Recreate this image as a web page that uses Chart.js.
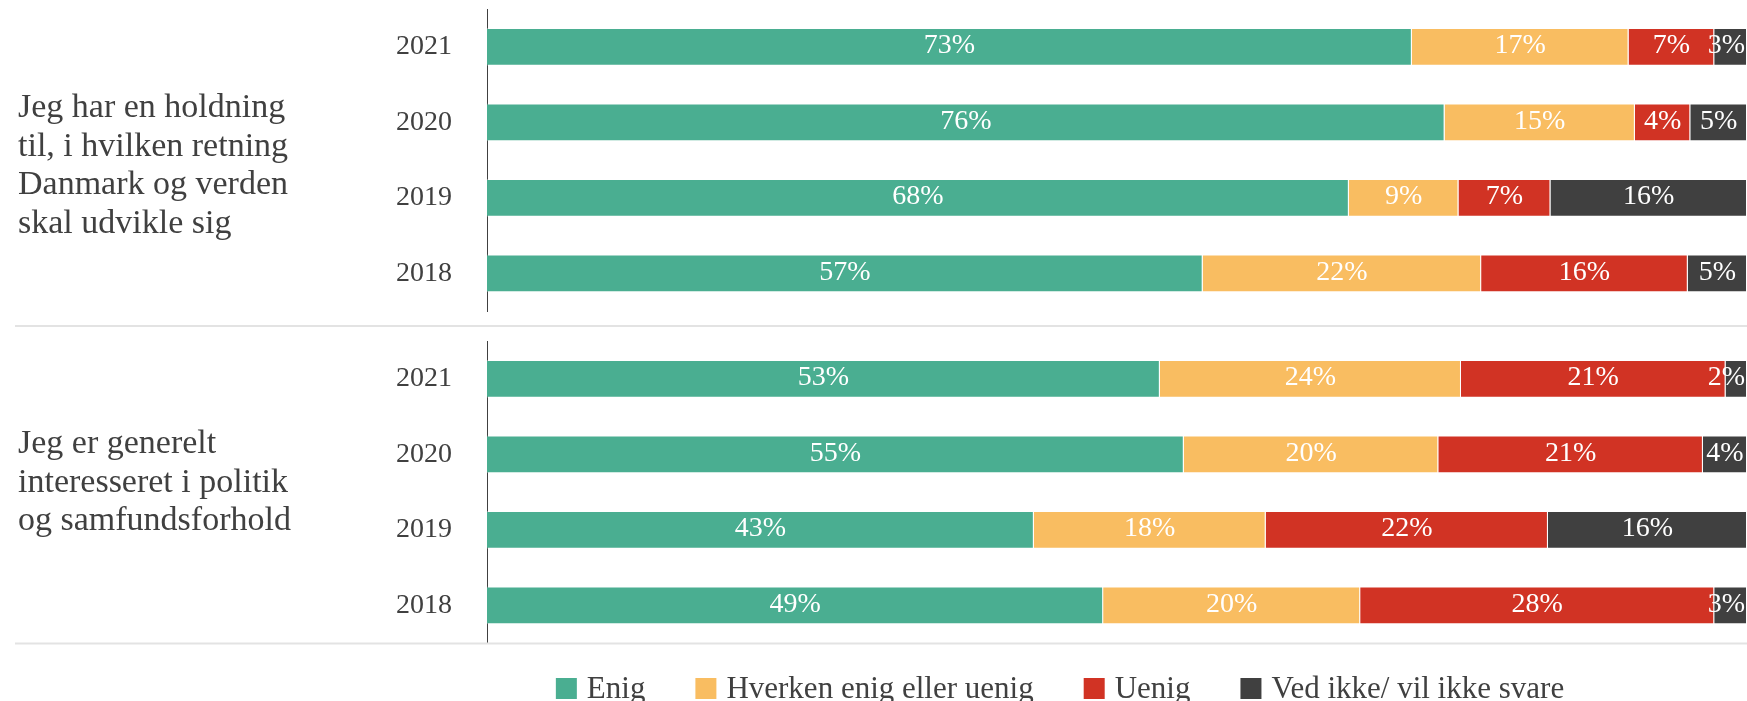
<!DOCTYPE html>
<html>
<head>
<meta charset="utf-8">
<script src="https://cdn.jsdelivr.net/npm/chart.js@4.4.0/dist/chart.umd.min.js"></script>
<style>
    html, body { margin: 0; padding: 0; background: #fff; }
    canvas { display: block; }
</style>
</head>
<body>
<canvas id="holdningChart" width="1747" height="327"></canvas>
<canvas id="politikChart" width="1747" height="374"></canvas>
<script>
const years = ['2021', '2020', '2019', '2018'];
const seriesNames = ['Enig', 'Hverken enig eller uenig', 'Uenig', 'Ved ikke/ vil ikke svare'];
const seriesColors = ['#4aae91', '#f9bd61', '#d13324', '#404040'];

const holdningQuestion = ['Jeg har en holdning', 'til, i hvilken retning', 'Danmark og verden', 'skal udvikle sig'];
const holdningEnig = [73.4, 76.0, 68.4, 56.8];
const holdningHverken = [17.2, 15.1, 8.7, 22.1];
const holdningUenig = [6.8, 4.4, 7.3, 16.4];
const holdningVedIkke = [2.6, 4.5, 15.6, 4.7];

const politikQuestion = ['Jeg er generelt', 'interesseret i politik', 'og samfundsforhold'];
const politikEnig = [53.4, 55.3, 43.4, 48.9];
const politikHverken = [23.9, 20.2, 18.4, 20.4];
const politikUenig = [21.0, 21.0, 22.4, 28.1];
const politikVedIkke = [1.7, 3.5, 15.8, 2.6];

const FONT = '"Liberation Serif", "Times New Roman", serif';
const TEXT_COLOR = '#404040';

// draws segment labels, the question text, the grey separator and (optionally) the legend
function makeOverlay(cfg) {
    return {
        id: 'overlay',
        afterDatasetsDraw(chart) {
            const ctx = chart.ctx;
            const right = chart.chartArea.right;
            ctx.save();
            ctx.font = '28px ' + FONT;
            ctx.fillStyle = '#ffffff';
            ctx.textAlign = 'center';
            ctx.textBaseline = 'middle';
            chart.data.datasets.forEach((ds, i) => {
                chart.getDatasetMeta(i).data.forEach((bar, j) => {
                    const p = bar.getProps(['x', 'base', 'y'], true);
                    const label = Math.round(ds.data[j]) + '%';
                    const w = ctx.measureText(label).width;
                    let cx = (p.x + p.base) / 2;
                    cx = Math.min(cx, right - w / 2 - 2);
                    ctx.fillText(label, cx, p.y - 1);
                });
            });
            ctx.restore();
        },
        afterDraw(chart) {
            const ctx = chart.ctx;
            ctx.save();
            // question text
            ctx.font = '34px ' + FONT;
            ctx.fillStyle = TEXT_COLOR;
            ctx.textAlign = 'left';
            ctx.textBaseline = 'alphabetic';
            cfg.question.forEach((line, k) => {
                ctx.fillText(line, 18, cfg.firstBaseline + k * 38.5);
            });
            // separator
            ctx.strokeStyle = '#e3e3e3';
            ctx.lineWidth = 2;
            ctx.beginPath();
            ctx.moveTo(15, cfg.separatorY);
            ctx.lineTo(chart.width, cfg.separatorY);
            ctx.stroke();
            // legend
            if (cfg.legendY) {
                ctx.font = '31px ' + FONT;
                ctx.textBaseline = 'middle';
                const box = 21, gap = 10, itemGap = 50;
                const widths = seriesNames.map(n => box + gap + ctx.measureText(n).width);
                const total = widths.reduce((a, b) => a + b, 0) + itemGap * (widths.length - 1);
                let x = cfg.legendCenter - total / 2;
                seriesNames.forEach((name, k) => {
                    ctx.fillStyle = seriesColors[k];
                    ctx.fillRect(x, cfg.legendY - box / 2, box, box);
                    ctx.fillStyle = TEXT_COLOR;
                    ctx.fillText(name, x + box + gap, cfg.legendY + 1);
                    x += widths[k] + itemGap;
                });
            }
            ctx.restore();
        }
    };
}

function buildChart(id, values, padding, overlayCfg) {
    const ctx = document.getElementById(id).getContext('2d');
    return new Chart(ctx, {
        type: 'bar',
        data: {
            labels: years,
            datasets: values.map((data, i) => ({
                label: seriesNames[i],
                data: data,
                backgroundColor: seriesColors[i],
                borderColor: 'rgba(255,255,255,0.35)',
                borderWidth: 1,
                barPercentage: 0.5,
                categoryPercentage: 1
            }))
        },
        options: {
            indexAxis: 'y',
            responsive: false,
            animation: false,
            devicePixelRatio: 1,
            layout: { padding: padding },
            plugins: {
                legend: { display: false },
                tooltip: { enabled: false }
            },
            scales: {
                x: {
                    stacked: true,
                    min: 0,
                    max: 100,
                    display: false
                },
                y: {
                    stacked: true,
                    grid: { display: false, drawTicks: false },
                    border: { display: true, color: TEXT_COLOR, width: 1 },
                    ticks: {
                        color: TEXT_COLOR,
                        font: { family: FONT, size: 28 },
                        padding: 35
                    },
                    afterFit(scale) {
                        scale.width = 487;
                        // tick padding would otherwise be reserved above and below the plot
                        scale.paddingTop = 0;
                        scale.paddingBottom = 0;
                    }
                }
            }
        },
        plugins: [makeOverlay(overlayCfg)]
    });
}

buildChart('holdningChart',
    [holdningEnig, holdningHverken, holdningUenig, holdningVedIkke],
    { top: 9, bottom: 16, left: 0, right: 0 },
    { question: holdningQuestion, firstBaseline: 117, separatorY: 326 });

buildChart('politikChart',
    [politikEnig, politikHverken, politikUenig, politikVedIkke],
    { top: 14, bottom: 58, left: 0, right: 0 },
    { question: politikQuestion, firstBaseline: 126, separatorY: 316.5, legendY: 361.5, legendCenter: 1060 });
</script>
</body>
</html>
